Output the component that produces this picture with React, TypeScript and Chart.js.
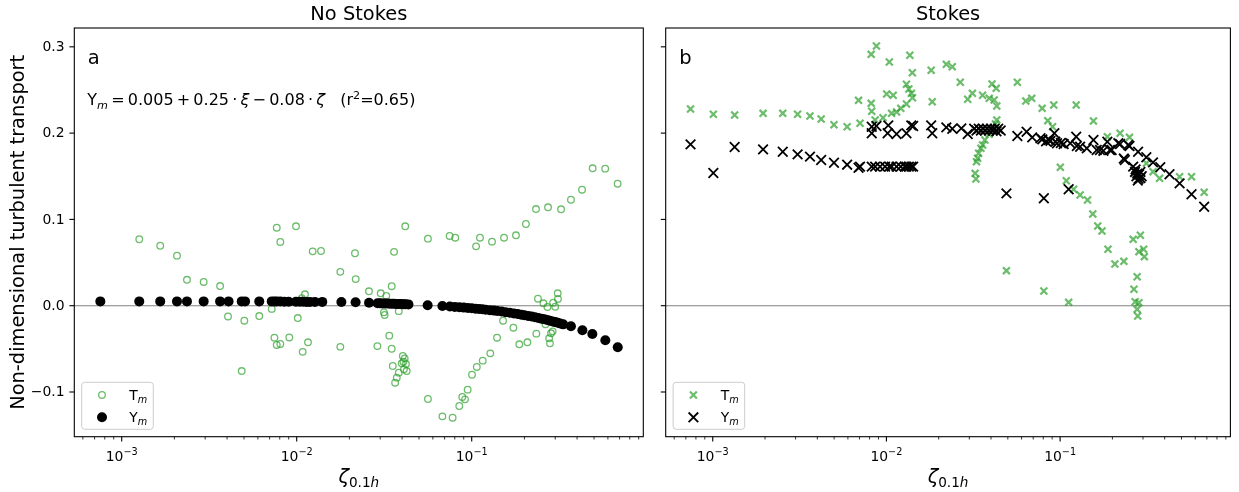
import React, { useEffect, useRef } from "react";
import { Chart, registerables } from "chart.js";

Chart.register(...registerables);

// ---------------- data ----------------
const panelTitles = ["No Stokes", "Stokes"];
const panelLetters = ["a", "b"];
const yAxisTitle = "Non-dimensional turbulent transport";
const seriesLetters = ["T", "Y"];
const seriesSub = "m";

const yTicks = [-0.1, 0, 0.1, 0.2, 0.3];
const yTickLabels = ["\u22120.1", "0.0", "0.1", "0.2", "0.3"];
const xMajorTicks = [1e-3, 1e-2, 1e-1];
const xMajorExps = ["\u22123", "\u22122", "\u22121"];
const xMinorTicks = [
  6e-4, 7e-4, 8e-4, 9e-4,
  2e-3, 3e-3, 4e-3, 5e-3, 6e-3, 7e-3, 8e-3, 9e-3,
  2e-2, 3e-2, 4e-2, 5e-2, 6e-2, 7e-2, 8e-2, 9e-2,
  2e-1, 3e-1, 4e-1, 5e-1, 6e-1, 7e-1, 8e-1, 9e-1,
];
const xRange = [5.36e-4, 0.956];
const yRange = [-0.1518, 0.3218];

// No Stokes: T_m (open circles)
const noStokesT: [number, number][] = [
  [1.26e-3, 0.077], [1.66e-3, 0.0695], [2.07e-3, 0.058], [2.36e-3, 0.03], [2.94e-3, 0.0275],
  [3.65e-3, 0.0228], [4.05e-3, -0.0125], [4.85e-3, -0.0757], [5.02e-3, -0.0174], [6.11e-3, -0.012],
  [7.2e-3, -0.0037], [7.46e-3, -0.037], [7.69e-3, -0.0455], [7.69e-3, 0.0904], [8.06e-3, 0.0738],
  [8.06e-3, -0.0444], [9.07e-3, -0.0368], [9.91e-3, 0.092], [1.014e-2, -0.0143], [1.069e-2, 0.0088],
  [1.082e-2, -0.0535], [1.115e-2, 0.0132], [1.16e-2, -0.0424], [1.234e-2, 0.063], [1.377e-2, 0.0634],
  [1.775e-2, 0.0392], [1.775e-2, -0.0477], [2.153e-2, 0.0608], [2.173e-2, 0.0308], [2.588e-2, 0.0167],
  [2.89e-2, -0.0468], [3.02e-2, 0.0144], [3.18e-2, -0.0108], [3.15e-2, -0.0077], [3.25e-2, 0.0114],
  [3.38e-2, -0.0347], [3.49e-2, 0.0226], [3.49e-2, -0.0499], [3.54e-2, -0.0699], [3.6e-2, 0.0624],
  [3.65e-2, -0.0892], [3.73e-2, -0.0834], [3.83e-2, -0.0776], [3.83e-2, -0.0063], [3.98e-2, -0.0668],
  [4.04e-2, -0.0583], [4.07e-2, -0.0649], [4.1e-2, -0.0737], [4.14e-2, -0.061], [4.17e-2, 0.092],
  [4.21e-2, -0.0676], [4.25e-2, -0.0757], [5.62e-2, -0.1081], [5.62e-2, 0.0777], [6.8e-2, -0.1282],
  [7.48e-2, 0.0808], [7.78e-2, -0.1298], [8.05e-2, 0.0788], [8.49e-2, -0.1162], [8.83e-2, -0.1058],
  [9.16e-2, -0.1085], [9.48e-2, -0.0973], [0.1004, -0.08], [0.1059, 0.0688], [0.1069, -0.071],
  [0.1115, 0.0788], [0.1156, -0.0637], [0.1277, -0.0552], [0.1306, 0.0742], [0.1396, -0.0371],
  [0.151, -0.0174], [0.153, 0.0788], [0.173, -0.0255], [0.179, 0.0816], [0.187, -0.0447],
  [0.204, 0.0947], [0.208, -0.0424], [0.233, 0.112], [0.234, -0.0324], [0.239, 0.0081],
  [0.257, 0.0028], [0.264, -0.0216], [0.271, -0.0015], [0.273, 0.114], [0.277, -0.0378],
  [0.28, -0.0436], [0.284, -0.032], [0.29, -0.0297], [0.292, 0.0035], [0.3, -0.0012],
  [0.31, 0.0144], [0.311, 0.0078], [0.324, 0.1117], [0.369, 0.1228], [0.427, 0.1344],
  [0.491, 0.1592], [0.579, 0.1588], [0.682, 0.1414],
];

// No Stokes: Y_m (filled circles)
const noStokesY: [number, number][] = [
  [7.55e-4, 0.005], [1.26e-3, 0.005], [1.66e-3, 0.005], [2.07e-3, 0.005], [2.36e-3, 0.005],
  [2.94e-3, 0.005], [3.65e-3, 0.005], [4.08e-3, 0.005], [4.85e-3, 0.005], [5.07e-3, 0.005],
  [6.11e-3, 0.005], [7.2e-3, 0.005], [7.46e-3, 0.005], [7.69e-3, 0.005], [8.06e-3, 0.005],
  [8.5e-3, 0.0045], [9.0e-3, 0.0045], [9.9e-3, 0.0045], [1.04e-2, 0.0045], [1.09e-2, 0.0045],
  [1.14e-2, 0.0044], [1.19e-2, 0.0044], [1.27e-2, 0.0044], [1.4e-2, 0.0044], [1.8e-2, 0.0042],
  [2.17e-2, 0.004], [2.59e-2, 0.0035], [2.9e-2, 0.0028], [3.0e-2, 0.0027], [3.1e-2, 0.0026],
  [3.2e-2, 0.0025], [3.3e-2, 0.0025], [3.4e-2, 0.0024], [3.5e-2, 0.0023], [3.6e-2, 0.0022],
  [3.7e-2, 0.0021], [3.8e-2, 0.002], [3.9e-2, 0.0019], [4.0e-2, 0.0018], [4.1e-2, 0.0017],
  [4.2e-2, 0.0016], [4.35e-2, 0.0015], [5.6e-2, 0.0005], [6.8e-2, -0.0004], [7.5e-2, -0.001],
  [8.0e-2, -0.0014], [8.5e-2, -0.0018], [9.0e-2, -0.0022], [9.5e-2, -0.0026], [0.1, -0.003],
  [0.105, -0.0034], [0.11, -0.0038], [0.115, -0.0042], [0.12, -0.0046], [0.127, -0.0052],
  [0.134, -0.0057], [0.14, -0.0062], [0.148, -0.0068], [0.156, -0.0075], [0.165, -0.0082],
  [0.174, -0.009], [0.183, -0.0096], [0.192, -0.0104], [0.2, -0.011], [0.21, -0.0118],
  [0.22, -0.0126], [0.23, -0.0134], [0.24, -0.0142], [0.25, -0.015], [0.26, -0.0158],
  [0.27, -0.0166], [0.28, -0.0174], [0.29, -0.0182], [0.3, -0.019], [0.31, -0.0198],
  [0.32, -0.0206], [0.333, -0.0216], [0.369, -0.0239], [0.429, -0.0285], [0.489, -0.0328],
  [0.58, -0.0401], [0.683, -0.0482],
];

// Stokes: T_m (small x)
const stokesT: [number, number][] = [
  [7.45e-4, 0.2279], [1.008e-3, 0.2218], [1.337e-3, 0.221], [1.949e-3, 0.2229], [2.53e-3, 0.2229],
  [3.08e-3, 0.2218], [3.63e-3, 0.2198], [4.21e-3, 0.2163], [4.99e-3, 0.2097], [5.94e-3, 0.2074],
  [6.91e-3, 0.238], [7.05e-3, 0.2114], [8.17e-3, 0.2913], [8.76e-3, 0.3009], [8.17e-3, 0.2345],
  [8.23e-3, 0.2253], [8.61e-3, 0.2152], [9.56e-3, 0.2178], [1.003e-2, 0.2453], [1.039e-2, 0.2824],
  [1.071e-2, 0.2229], [1.094e-2, 0.2438], [1.144e-2, 0.2245], [1.21e-2, 0.2287], [1.304e-2, 0.2337],
  [1.304e-2, 0.2566], [1.346e-2, 0.2511], [1.364e-2, 0.2902], [1.393e-2, 0.2461], [1.412e-2, 0.241],
  [1.41e-2, 0.27], [1.81e-2, 0.2728], [1.836e-2, 0.2364], [2.213e-2, 0.2797], [2.395e-2, 0.2769],
  [2.662e-2, 0.2589], [2.938e-2, 0.2392], [3.126e-2, 0.2461], [3.578e-2, 0.2438], [3.908e-2, 0.2403],
  [4.055e-2, 0.2569], [4.174e-2, 0.2384], [4.285e-2, 0.2519], [4.319e-2, 0.2314], [4.319e-2, 0.2152],
  [4.246e-2, 0.2105], [4.082e-2, 0.2036], [3.908e-2, 0.1988], [3.688e-2, 0.192], [3.578e-2, 0.1862],
  [3.499e-2, 0.1824], [3.396e-2, 0.1766], [3.351e-2, 0.1708], [3.3e-2, 0.1669], [3.24e-2, 0.1534],
  [3.277e-2, 0.1468], [4.908e-2, 0.0406], [5.673e-2, 0.2589], [6.345e-2, 0.2372], [6.866e-2, 0.2403],
  [7.882e-2, 0.2287], [8.06e-2, 0.017], [8.494e-2, 0.2144], [9.05e-2, 0.2074], [9.193e-2, 0.2326],
  [0.1003, 0.1604], [0.1085, 0.1448], [0.112, 0.0039], [0.1196, 0.1349], [0.1238, 0.2326],
  [0.1304, 0.1283], [0.1438, 0.1225], [0.1542, 0.1063], [0.1556, 0.214], [0.1647, 0.0924],
  [0.1742, 0.0866], [0.1871, 0.1958], [0.1886, 0.0654], [0.2067, 0.0483], [0.2214, 0.1998],
  [0.2328, 0.0514], [0.2508, 0.1951], [0.2634, 0.0769], [0.2662, 0.019], [0.2704, 0.0046],
  [0.2776, 0.0336], [0.2776, -0.0042], [0.2798, -0.0119], [0.2842, 0.0626], [0.2842, 0.0035],
  [0.2898, 0.0816], [0.3027, 0.0654], [0.3055, 0.0568], [0.3137, 0.165], [0.3427, 0.1553],
  [0.3738, 0.1476], [0.4875, 0.1495], [0.5709, 0.1495], [0.6752, 0.1314],
];

// Stokes: Y_m (large x)
const stokesY: [number, number][] = [
  [7.45e-4, 0.187], [1.008e-3, 0.1538], [1.337e-3, 0.1839], [1.949e-3, 0.1812], [2.53e-3, 0.1784],
  [3.08e-3, 0.1754], [3.63e-3, 0.1727], [4.21e-3, 0.1688], [4.99e-3, 0.1657], [5.94e-3, 0.1634],
  [6.91e-3, 0.1599], [7.05e-3, 0.1611], [8.23e-3, 0.1611], [8.61e-3, 0.1611], [9.19e-3, 0.1611],
  [9.82e-3, 0.1611], [1.039e-2, 0.1611], [1.071e-2, 0.1611], [1.144e-2, 0.1611], [1.21e-2, 0.1611],
  [1.277e-2, 0.1611], [1.304e-2, 0.1611], [1.346e-2, 0.1611], [1.393e-2, 0.1611], [1.425e-2, 0.1611],
  [8.23e-3, 0.2074], [8.23e-3, 0.1998], [8.76e-3, 0.2082], [1.016e-2, 0.1998], [1.025e-2, 0.209],
  [1.144e-2, 0.199], [1.304e-2, 0.1998], [1.39e-2, 0.209], [1.425e-2, 0.2082], [1.81e-2, 0.209],
  [1.836e-2, 0.1998], [2.213e-2, 0.2067], [2.395e-2, 0.2051], [2.7e-2, 0.2055], [2.938e-2, 0.199],
  [3.2e-2, 0.205], [3.3e-2, 0.203], [3.4e-2, 0.205], [3.5e-2, 0.203], [3.6e-2, 0.205],
  [3.7e-2, 0.203], [3.8e-2, 0.205], [3.9e-2, 0.203], [4.0e-2, 0.205], [4.1e-2, 0.203],
  [4.2e-2, 0.205], [4.3e-2, 0.202], [4.4e-2, 0.205], [4.55e-2, 0.203], [4.908e-2, 0.1302],
  [5.673e-2, 0.1966], [6.411e-2, 0.2016], [6.91e-2, 0.1951], [7.708e-2, 0.194], [7.9e-2, 0.1928],
  [8.06e-2, 0.1245], [8.3e-2, 0.1905], [8.608e-2, 0.192], [8.8e-2, 0.191], [9.267e-2, 0.1998],
  [9.39e-2, 0.19], [9.6e-2, 0.1882], [0.101, 0.1885], [0.1048, 0.1874], [0.112, 0.1349],
  [0.1144, 0.1882], [0.1238, 0.1958], [0.1249, 0.1851], [0.1304, 0.1842], [0.1424, 0.1824],
  [0.1556, 0.192], [0.1625, 0.1804], [0.1697, 0.1804], [0.1775, 0.1796], [0.1871, 0.19],
  [0.1936, 0.1804], [0.198, 0.1804], [0.2163, 0.1882], [0.2214, 0.1874], [0.2328, 0.1705],
  [0.2359, 0.1688], [0.2466, 0.1862], [0.2508, 0.1851], [0.2634, 0.1611], [0.27, 0.155],
  [0.272, 0.158], [0.275, 0.15], [0.278, 0.153], [0.28, 0.145], [0.283, 0.147],
  [0.285, 0.152], [0.29, 0.148], [0.29, 0.155], [0.295, 0.15], [0.2812, 0.1784],
  [0.3137, 0.172], [0.3427, 0.1661], [0.3773, 0.1604], [0.4264, 0.1523], [0.4875, 0.1418],
  [0.5709, 0.1291], [0.6752, 0.1147],
];

// ---------------- styling ----------------
const GREEN = "rgba(44,160,44,0.7)";
const FONT = '"DejaVu Sans", "Liberation Sans", sans-serif';

type Part = { t: string; size: number; italic?: boolean; dy?: number };

function drawParts(ctx: CanvasRenderingContext2D, x: number, y: number, parts: Part[], center: boolean) {
  const widths = parts.map((p) => {
    ctx.font = `${p.italic ? "italic " : ""}${p.size}px ${FONT}`;
    return ctx.measureText(p.t).width;
  });
  const total = widths.reduce((a, b) => a + b, 0);
  let cx = center ? x - total / 2 : x;
  ctx.textAlign = "left";
  ctx.textBaseline = "alphabetic";
  parts.forEach((p, i) => {
    ctx.font = `${p.italic ? "italic " : ""}${p.size}px ${FONT}`;
    ctx.fillText(p.t, cx, y + (p.dy || 0));
    cx += widths[i];
  });
}

function drawMarker(ctx: CanvasRenderingContext2D, kind: string, x: number, y: number) {
  ctx.save();
  if (kind === "openCircle") {
    ctx.strokeStyle = GREEN;
    ctx.lineWidth = 1.3;
    ctx.beginPath();
    ctx.arc(x, y, 3.3, 0, Math.PI * 2);
    ctx.stroke();
  } else if (kind === "filledCircle") {
    ctx.fillStyle = "#000";
    ctx.beginPath();
    ctx.arc(x, y, 5, 0, Math.PI * 2);
    ctx.fill();
  } else {
    const big = kind === "blackX";
    const r = (big ? 6.8 : 4.9) * Math.SQRT1_2;
    ctx.strokeStyle = big ? "#000" : GREEN;
    ctx.lineWidth = big ? 1.8 : 2.2;
    ctx.beginPath();
    ctx.moveTo(x - r, y - r);
    ctx.lineTo(x + r, y + r);
    ctx.moveTo(x - r, y + r);
    ctx.lineTo(x + r, y - r);
    ctx.stroke();
  }
  ctx.restore();
}

type PanelCfg = {
  idx: number;
  t: [number, number][];
  y: [number, number][];
  yAxisWidth: number;
  padRight: number;
  markers: [string, string];
  showYLabels: boolean;
  showEquation: boolean;
};

const TS = "\u2009"; // thin space used around math operators

function makePlugin(cfg: PanelCfg) {
  return {
    id: "panelDecor" + cfg.idx,
    beforeDatasetsDraw(chart: any) {
      const { ctx, chartArea, scales } = chart;
      const y0 = scales.y.getPixelForValue(0);
      ctx.save();
      ctx.strokeStyle = "#808080";
      ctx.lineWidth = 1.1;
      ctx.beginPath();
      ctx.moveTo(chartArea.left, y0);
      ctx.lineTo(chartArea.right, y0);
      ctx.stroke();
      ctx.restore();
    },
    afterDraw(chart: any) {
      const { ctx, chartArea: a, scales } = chart;
      const xs = scales.x;
      const ys = scales.y;
      ctx.save();
      ctx.fillStyle = "#000";
      ctx.strokeStyle = "#000";

      // frame
      ctx.lineWidth = 1.1;
      ctx.strokeRect(a.left, a.top, a.right - a.left, a.bottom - a.top);

      // y ticks
      ctx.lineWidth = 1.1;
      yTicks.forEach((v, i) => {
        const py = ys.getPixelForValue(v);
        ctx.beginPath();
        ctx.moveTo(a.left, py);
        ctx.lineTo(a.left - 4.9, py);
        ctx.stroke();
        if (cfg.showYLabels) {
          ctx.font = `13.9px ${FONT}`;
          ctx.textAlign = "right";
          ctx.textBaseline = "middle";
          ctx.fillText(yTickLabels[i], a.left - 9.8, py + 0.5);
        }
      });

      // x minor ticks
      ctx.lineWidth = 0.8;
      xMinorTicks.forEach((v) => {
        const px = xs.getPixelForValue(v);
        ctx.beginPath();
        ctx.moveTo(px, a.bottom);
        ctx.lineTo(px, a.bottom + 2.8);
        ctx.stroke();
      });
      // x major ticks + labels
      ctx.lineWidth = 1.1;
      xMajorTicks.forEach((v, i) => {
        const px = xs.getPixelForValue(v);
        ctx.beginPath();
        ctx.moveTo(px, a.bottom);
        ctx.lineTo(px, a.bottom + 4.9);
        ctx.stroke();
        drawParts(ctx, px, a.bottom + 24.5, [
          { t: "10", size: 13.9 },
          { t: xMajorExps[i], size: 9.7, dy: -6 },
        ], true);
      });

      const cx = (a.left + a.right) / 2;
      // title
      ctx.font = `19.4px ${FONT}`;
      ctx.textAlign = "center";
      ctx.textBaseline = "alphabetic";
      ctx.fillText(panelTitles[cfg.idx], cx, a.top - 8);

      // x label
      drawParts(ctx, cx, 483, [
        { t: "\u03b6", size: 19.4, italic: true },
        { t: "0.1", size: 13.6, dy: 4 },
        { t: "h", size: 13.6, italic: true, dy: 4 },
      ], true);

      // y label
      if (cfg.showYLabels) {
        ctx.save();
        ctx.translate(24, (a.top + a.bottom) / 2);
        ctx.rotate(-Math.PI / 2);
        ctx.font = `19.4px ${FONT}`;
        ctx.textAlign = "center";
        ctx.textBaseline = "alphabetic";
        ctx.fillText(yAxisTitle, 0, 0);
        ctx.restore();
      }

      // panel letter
      ctx.font = `19.5px ${FONT}`;
      ctx.textAlign = "left";
      ctx.textBaseline = "alphabetic";
      ctx.fillText(panelLetters[cfg.idx], a.left + 13.5, a.top + 36);

      // equation
      if (cfg.showEquation) {
        const s = 16;
        const ss = 11.2;
        drawParts(ctx, a.left + 13, a.top + 77, [
          { t: "Y", size: s },
          { t: "m", size: ss, italic: true, dy: 3.5 },
          { t: `${TS}=${TS}0.005${TS}+${TS}0.25${TS}\u00b7${TS}`, size: s },
          { t: "\u03be", size: s, italic: true },
          { t: `${TS}\u2212${TS}0.08${TS}\u00b7${TS}`, size: s },
          { t: "\u03b6", size: s, italic: true },
          { t: "   (r", size: s },
          { t: "2", size: ss, dy: -6.5 },
          { t: "=0.65)", size: s },
        ], false);
      }

      // legend
      const lx = a.left + 7.4;
      const ly = a.bottom - 54.4;
      const lw = 71.6;
      const lh = 47;
      const r = 3;
      ctx.beginPath();
      ctx.moveTo(lx + r, ly);
      ctx.lineTo(lx + lw - r, ly);
      ctx.quadraticCurveTo(lx + lw, ly, lx + lw, ly + r);
      ctx.lineTo(lx + lw, ly + lh - r);
      ctx.quadraticCurveTo(lx + lw, ly + lh, lx + lw - r, ly + lh);
      ctx.lineTo(lx + r, ly + lh);
      ctx.quadraticCurveTo(lx, ly + lh, lx, ly + lh - r);
      ctx.lineTo(lx, ly + r);
      ctx.quadraticCurveTo(lx, ly, lx + r, ly);
      ctx.closePath();
      ctx.fillStyle = "rgba(255,255,255,0.8)";
      ctx.fill();
      ctx.strokeStyle = "#cccccc";
      ctx.lineWidth = 1;
      ctx.stroke();
      const rows = [ly + 12.7, ly + 35];
      rows.forEach((ry, i) => {
        drawMarker(ctx, cfg.markers[i], lx + 20.3, ry);
        ctx.fillStyle = "#000";
        drawParts(ctx, lx + 47.6, ry + 5, [
          { t: seriesLetters[i], size: 13.9 },
          { t: seriesSub, size: 9.7, italic: true, dy: 3 },
        ], false);
      });

      ctx.restore();
    },
  };
}

function buildChart(canvas: HTMLCanvasElement, cfg: PanelCfg) {
  const isCross = cfg.markers[0] === "greenX";
  return new Chart(canvas, {
    type: "scatter",
    data: {
      datasets: [
        {
          label: "Tm",
          data: cfg.t.map(([x, y]) => ({ x, y })),
          order: 2,
          pointStyle: isCross ? "crossRot" : "circle",
          pointRadius: isCross ? 4.9 : 3.3,
          pointBorderWidth: isCross ? 2.2 : 1.3,
          pointBorderColor: GREEN,
          pointBackgroundColor: isCross ? GREEN : "rgba(0,0,0,0)",
        },
        {
          label: "Ym",
          data: cfg.y.map(([x, y]) => ({ x, y })),
          order: 1,
          pointStyle: isCross ? "crossRot" : "circle",
          pointRadius: isCross ? 6.8 : 5,
          pointBorderWidth: isCross ? 1.8 : 0,
          pointBorderColor: "#000",
          pointBackgroundColor: "#000",
        },
      ],
    },
    options: {
      animation: false,
      responsive: false,
      devicePixelRatio: 1,
      events: [],
      layout: { padding: { left: 0, top: 28, right: cfg.padRight, bottom: 0 } },
      plugins: {
        legend: { display: false },
        title: { display: false },
        tooltip: { enabled: false },
      },
      scales: {
        x: {
          type: "logarithmic",
          min: xRange[0],
          max: xRange[1],
          grid: { display: false, drawTicks: false },
          border: { display: false },
          ticks: { display: false },
          afterFit: (s: any) => {
            s.height = 55.3;
          },
        },
        y: {
          type: "linear",
          min: yRange[0],
          max: yRange[1],
          grid: { display: false, drawTicks: false },
          border: { display: false },
          ticks: { display: false },
          afterFit: (s: any) => {
            s.width = cfg.yAxisWidth;
          },
        },
      },
    } as any,
    plugins: [makePlugin(cfg)],
  });
}

export default function App() {
  const leftRef = useRef<HTMLCanvasElement>(null);
  const rightRef = useRef<HTMLCanvasElement>(null);

  useEffect(() => {
    const c1 = buildChart(leftRef.current!, {
      idx: 0,
      t: noStokesT,
      y: noStokesY,
      yAxisWidth: 74.3,
      padRight: 11.7,
      markers: ["openCircle", "filledCircle"],
      showYLabels: true,
      showEquation: true,
    });
    const c2 = buildChart(rightRef.current!, {
      idx: 1,
      t: stokesT,
      y: stokesY,
      yAxisWidth: 10.7,
      padRight: 5,
      markers: ["greenX", "blackX"],
      showYLabels: false,
      showEquation: false,
    });
    return () => {
      c1.destroy();
      c2.destroy();
    };
  }, []);

  return (
    <div style={{ position: "fixed", left: 0, top: 0, width: 1239, height: 492, background: "#fff" }}>
      <canvas ref={leftRef} width={655} height={492} style={{ position: "absolute", left: 0, top: 0, width: 655, height: 492 }} />
      <canvas ref={rightRef} width={584} height={492} style={{ position: "absolute", left: 655, top: 0, width: 584, height: 492 }} />
    </div>
  );
}
